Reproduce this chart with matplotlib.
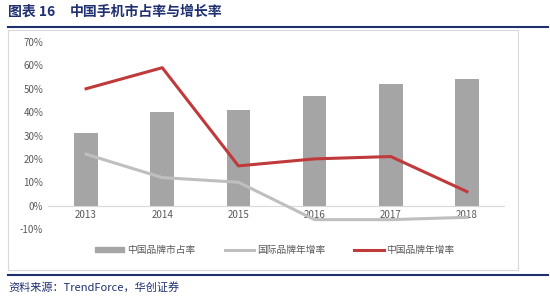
import matplotlib
matplotlib.use("Agg")
import matplotlib.pyplot as plt
from matplotlib.lines import Line2D
from matplotlib.patches import Rectangle
from matplotlib.ticker import FuncFormatter

plt.rcParams['font.family'] = ['Noto Sans CJK SC', 'DejaVu Sans']

years = ['2013', '2014', '2015', '2016', '2017', '2018']
cn_share = [31, 40, 41, 47, 52, 54]
intl_growth = [22, 12, 10, -6, -6, -5]
cn_growth = [50, 59, 17, 20, 21, 6]
yticks = [-10, 0, 10, 20, 30, 40, 50, 60, 70]

fig = plt.figure(figsize=(5.5, 2.98), dpi=100)
W, H = 550, 298

# title
fig.text(8/W, 1-12/H, '图表 16', fontsize=10, fontweight='bold', color='#1F3070', va='center', ha='left')
fig.text(70/W, 1-12/H, '中国手机市占率与增长率', fontsize=10, fontweight='bold', color='#1F3070', va='center', ha='left')
fig.add_artist(Line2D([8/W, 548/W], [1-27/H, 1-27/H], color='#1F3070', lw=1.5))
# chart border
fig.add_artist(Rectangle((8/W, 1-270/H), 510/W, 240/H, fill=False, ec='#D9D9D9', lw=0.8))
# footer line
fig.add_artist(Line2D([8/W, 548/W], [1-275/H, 1-275/H], color='#1F3070', lw=1.5))
fig.text(8/W, 1-287/H, '资料来源：TrendForce，华创证券', fontsize=8, style='italic', color='#1F3070', va='center', ha='left')

ax = fig.add_axes([48/W, 1-229/H, 457/W, 187/H])
x = list(range(len(years)))
b = ax.bar(x, cn_share, width=0.31, color='#A5A5A5', label='中国品牌市占率', zorder=2)
l1, = ax.plot(x, intl_growth, color='#BFBFBF', lw=2.2, label='国际品牌年增率', zorder=3)
l2, = ax.plot(x, cn_growth, color='#C0393B', lw=2.2, label='中国品牌年增率', zorder=4)
ax.axhline(0, color='#D9D9D9', lw=0.8, zorder=1)
ax.set_ylim(-10, 70)
ax.set_xlim(-0.5, 5.5)
ax.set_yticks(yticks)
ax.yaxis.set_major_formatter(FuncFormatter(lambda v, p: f'{int(v)}%'))
ax.set_xticks(x)
ax.set_xticklabels(years)
ax.tick_params(axis='both', length=0, labelsize=7, colors='#595959')
ax.tick_params(axis='x', pad=-14)
for s in ax.spines.values():
    s.set_visible(False)
ax.patch.set_alpha(0)

bar_handle = Rectangle((0, 0), 1, 0.5, color='#A5A5A5')
leg = fig.legend([bar_handle, l1, l2], ['中国品牌市占率', '国际品牌年增率', '中国品牌年增率'],
                 loc='center', bbox_to_anchor=(275/W, 1-250/H), ncol=3, frameon=False,
                 fontsize=7, handlelength=3, handleheight=0.4, columnspacing=3, handletextpad=0.3,
                 labelcolor='#595959')
plt.savefig('out.png', dpi=100)
